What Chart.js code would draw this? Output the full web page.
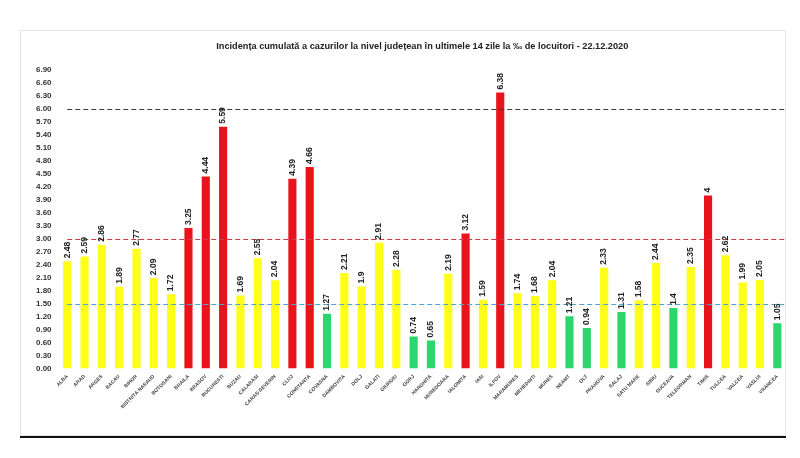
<!DOCTYPE html>
<html>
<head>
<meta charset="utf-8">
<script src="https://cdn.jsdelivr.net/npm/chart.js@4"></script>
<style>
  html, body { margin: 0; padding: 0; background: #fff; }
  #wrap { width: 800px; height: 458px; }
</style>
</head>
<body>
<div id="wrap"><canvas id="chart"></canvas></div>
<script>
const judete = ['ALBA', 'ARAD', 'ARGES', 'BACAU', 'BIHOR', 'BISTRITA NASAUD', 'BOTOSANI', 'BRAILA', 'BRASOV', 'BUCURESTI',
	'BUZAU', 'CALARASI', 'CARAS-SEVERIN', 'CLUJ', 'CONSTANTA', 'COVASNA', 'DAMBOVITA', 'DOLJ', 'GALATI', 'GIURGIU',
	'GORJ', 'HARGHITA', 'HUNEDOARA', 'IALOMITA', 'IASI', 'ILFOV', 'MARAMURES', 'MEHEDINTI', 'MURES', 'NEAMT',
	'OLT', 'PRAHOVA', 'SALAJ', 'SATU MARE', 'SIBIU', 'SUCEAVA', 'TELEORMAN', 'TIMIS', 'TULCEA', 'VALCEA',
	'VASLUI', 'VRANCEA'];
const incidenta = [2.48, 2.59, 2.86, 1.89, 2.77, 2.09, 1.72, 3.25, 4.44, 5.59,
	1.69, 2.55, 2.04, 4.39, 4.66, 1.27, 2.21, 1.9, 2.91, 2.28,
	0.74, 0.65, 2.19, 3.12, 1.59, 6.38, 1.74, 1.68, 2.04, 1.21,
	0.94, 2.33, 1.31, 1.58, 2.44, 1.4, 2.35, 4, 2.62, 1.99,
	2.05, 1.05];
const praguri = [6.0, 3.0, 1.5];
const culoriPraguri = ['#3a3a3a', '#d23a4a', '#4aa6d6'];
const yMax = 6.9;
const yStep = 0.3;
const titlu = 'Incidența cumulată a cazurilor la nivel județean în ultimele 14 zile la ‰ de locuitori - 22.12.2020';

function culoareBara(v)
{
	if (v > 3) return '#e8141b';
	if (v >= 1.5) return '#ffff1a';
	return '#2bd66b';
}

const decor = {
	id: 'decor',
	beforeDraw(chart) {
		const ctx = chart.ctx;
		ctx.save();
		ctx.strokeStyle = '#e6e6e6';
		ctx.lineWidth = 1;
		ctx.strokeRect(20.5, 30.5, 765, 405);
		ctx.fillStyle = '#111';
		ctx.fillRect(20, 436, 766, 2);
		ctx.restore();
	},
	afterDatasetsDraw(chart) {
		const ctx = chart.ctx;
		const x = chart.scales.x, y = chart.scales.y;
		ctx.save();
		// linii de prag
		ctx.lineWidth = 1.2;
		ctx.setLineDash([5, 3]);
		praguri.forEach(function (p, i) {
			const py = Math.round(y.getPixelForValue(p)) + 0.5;
			ctx.strokeStyle = culoriPraguri[i];
			ctx.beginPath();
			ctx.moveTo(x.getPixelForValue(0), py);
			ctx.lineTo(chart.chartArea.right, py);
			ctx.stroke();
		});
		ctx.setLineDash([]);
		// etichete valori
		ctx.fillStyle = '#222';
		ctx.font = 'bold 8.5px "Liberation Sans", sans-serif';
		ctx.textAlign = 'left';
		ctx.textBaseline = 'middle';
		chart.getDatasetMeta(0).data.forEach(function (bar, i) {
			ctx.save();
			ctx.translate(bar.x, bar.y - 3);
			ctx.rotate(-Math.PI / 2);
			ctx.fillText(String(incidenta[i]), 0, 0);
			ctx.restore();
		});
		// titlu
		ctx.fillStyle = '#222';
		ctx.font = 'bold 9.2px "Liberation Sans", sans-serif';
		ctx.textAlign = 'center';
		ctx.fillText(titlu, (chart.chartArea.left + chart.chartArea.right) / 2, 46);
		ctx.restore();
	}
};

new Chart(document.getElementById('chart'), {
	type: 'bar',
	data: {
		labels: judete,
		datasets: [{
			data: incidenta,
			backgroundColor: incidenta.map(culoareBara),
			categoryPercentage: 1,
			barPercentage: 0.47
		}]
	},
	options: {
		responsive: true,
		maintainAspectRatio: false,
		animation: false,
		layout: { padding: { left: 29, right: 14, top: 70, bottom: 43 } },
		plugins: {
			legend: { display: false },
			tooltip: { enabled: false }
		},
		scales: {
			x: {
				grid: { display: false, drawTicks: false },
				border: { display: false },
				ticks: {
					autoSkip: false,
					minRotation: 45,
					maxRotation: 45,
					padding: 5,
					color: '#444',
					font: { family: '"Liberation Sans", sans-serif', size: 5, weight: 'bold' }
				}
			},
			y: {
				min: 0,
				max: yMax,
				grid: { display: false, drawTicks: false },
				border: { display: false },
				ticks: {
					stepSize: yStep,
					autoSkip: false,
					padding: 7,
					color: '#333',
					font: { family: '"Liberation Sans", sans-serif', size: 8, weight: 'bold' },
					callback: function (v) { return Number(v).toFixed(2); }
				}
			}
		}
	},
	plugins: [decor]
});
</script>
</body>
</html>
